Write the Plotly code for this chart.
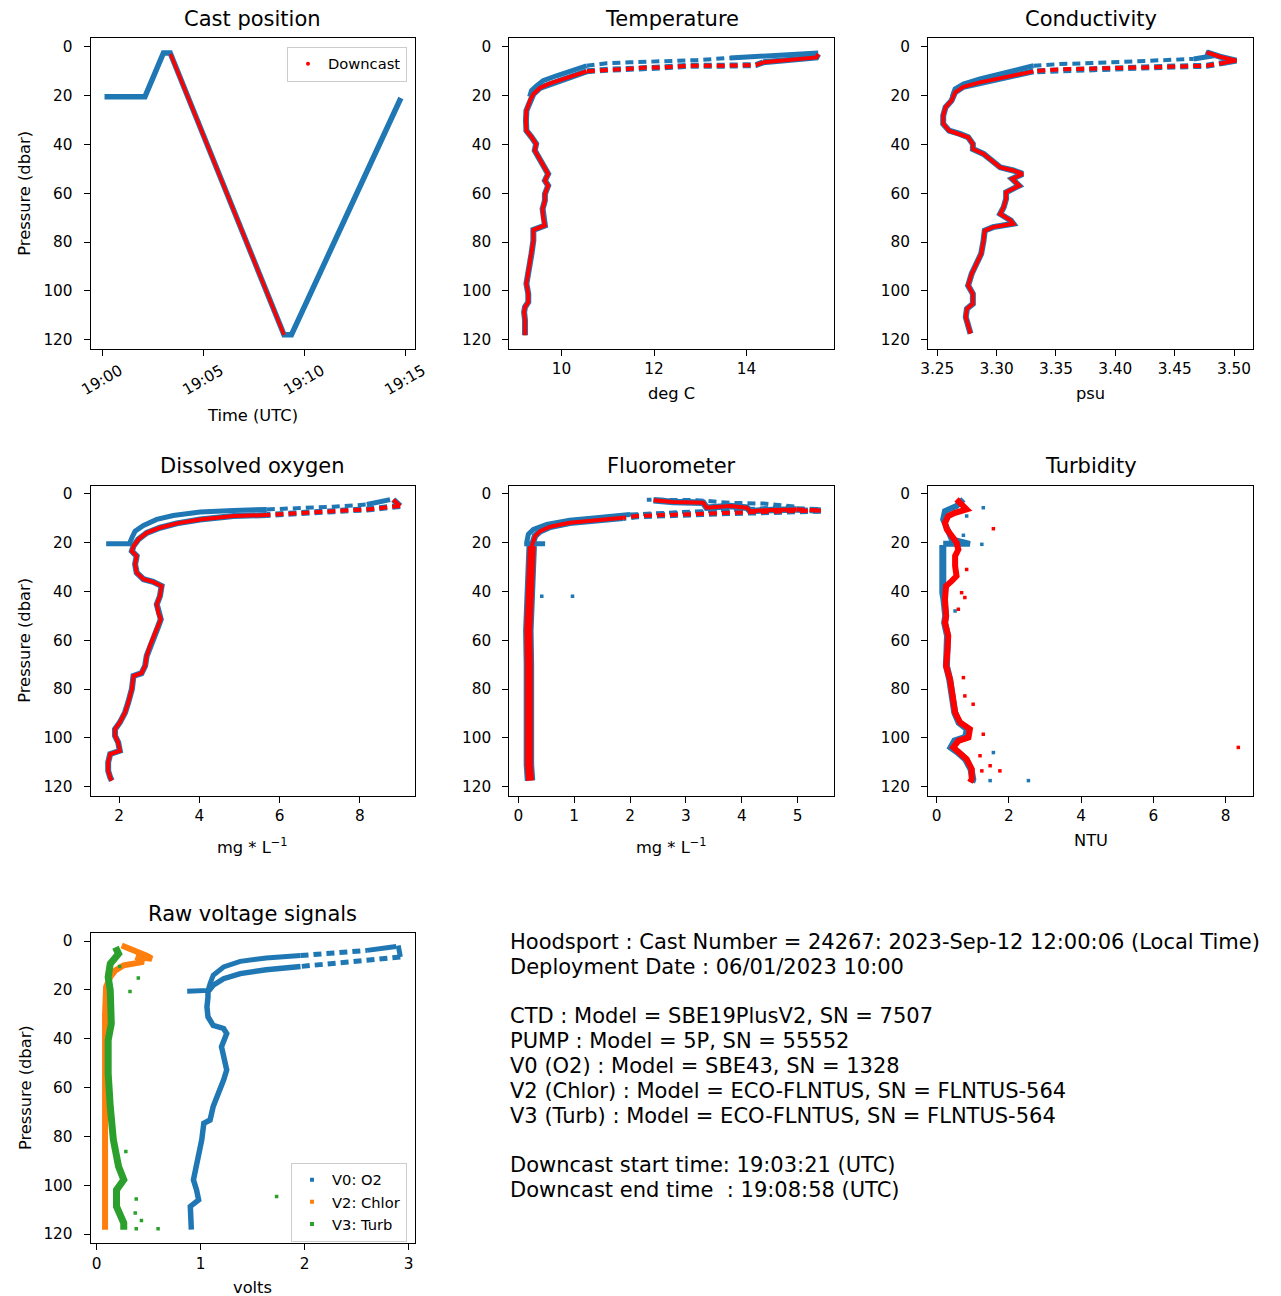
import plotly.graph_objects as go

W, H = 1281, 1296          # window size
OFF = 8                    # browser body margin
FW, FH = W - OFF, H - OFF
FONT = "DejaVu Sans"
BLUE = "#1f77b4"
RED = "#ff0000"
ORANGE = "#ff7f0e"
GREEN = "#2ca02c"

# ---------------- data ----------------
DAY = "2023-09-12 "
cast_time_all = [DAY + t for t in ["19:00:05", "19:02:05", "19:03:00", "19:03:20",
                                   "19:08:58", "19:09:20", "19:14:45"]]
cast_pres_all = [20.5, 20.5, 2.6, 2.6, 118.0, 118.0, 21.0]
cast_time_down = [DAY + "19:03:21", DAY + "19:08:58"]
cast_pres_down = [3.0, 118.0]
time_ticks = [DAY + "19:00", DAY + "19:05", DAY + "19:10", DAY + "19:15"]
time_ticktext = ["19:00", "19:05", "19:10", "19:15"]

# Temperature (deg C)
temp_down_p = [3.0, 4.4, 6.4, 7.5, 7.8, 7.8, 8.5, 8.5, 9.1, 9.5, 10.1, 11.5, 13.2, 15.0, 16.9, 19.4,
               22.0, 26.2, 30.3, 34.4, 37.0, 39.8, 42.5, 45.3, 48.7, 52.1, 54.8, 56.9, 60.3, 63.0,
               66.4, 69.8, 73.2, 75.0, 79.4, 84.8, 88.9, 93.0, 97.1, 101.2, 104.6, 106.6, 108.7,
               112.1, 116.2, 118.2]
temp_down_v = [15.55, 15.51, 14.36, 14.2, 13.5, 12.77, 12.2, 11.84, 11.4, 10.9, 10.54, 10.32, 10.04,
               9.75, 9.53, 9.39, 9.32, 9.24, 9.23, 9.24, 9.35, 9.45, 9.42, 9.5, 9.6, 9.71, 9.64, 9.71,
               9.64, 9.64, 9.59, 9.6, 9.64, 9.39, 9.39, 9.35, 9.32, 9.28, 9.24, 9.28, 9.28, 9.21, 9.19,
               9.21, 9.21, 9.21]
temp_rise_p = [20.5, 20.0, 18.0, 16.0, 13.9, 11.9, 9.8, 7.8, 6.8, 6.4, 6.0, 5.5, 4.6, 3.7, 2.6]
temp_rise_v = [9.31, 9.32, 9.35, 9.46, 9.6, 9.89, 10.25, 10.54, 10.97, 11.48, 12.2, 12.92, 13.64,
               14.72, 15.55]

# Conductivity (psu)
cond_down_p = [2.3, 4.1, 5.7, 6.4, 7.8, 8.5, 8.9, 9.1, 9.4, 10.1, 11.5, 12.8, 14.6, 16.4, 18.7, 22.1,
               24.8, 28.2, 31.6, 34.4, 35.7, 37.1, 39.8, 41.9, 43.9, 46.6, 49.4, 50.7, 52.1, 54.1,
               56.9, 59.6, 62.3, 65.7, 68.5, 71.2, 72.5, 73.9, 75.3, 79.4, 84.8, 88.9, 93.0, 97.8,
               101.2, 105.3, 107.3, 110.7, 114.8, 117.5]
cond_down_v = [3.477, 3.488, 3.502, 3.494, 3.477, 3.424, 3.401, 3.367, 3.348, 3.331, 3.317, 3.303,
               3.286, 3.272, 3.265, 3.262, 3.257, 3.255, 3.255, 3.260, 3.269, 3.276, 3.280, 3.280,
               3.289, 3.296, 3.303, 3.314, 3.322, 3.313, 3.319, 3.308, 3.308, 3.306, 3.303, 3.312,
               3.314, 3.297, 3.290, 3.289, 3.287, 3.283, 3.279, 3.276, 3.280, 3.280, 3.275, 3.274,
               3.276, 3.278]
cond_rise_p = [20.5, 20.0, 17.3, 15.3, 13.2, 11.2, 9.1, 7.8, 7.1, 6.7, 6.1, 5.7, 5.0, 3.7, 2.3]
cond_rise_v = [3.263, 3.263, 3.265, 3.272, 3.286, 3.303, 3.320, 3.331, 3.353, 3.381, 3.410, 3.438,
               3.466, 3.483, 3.476]

# Dissolved oxygen (mg/L)
do_down_p = [2.4, 5.0, 6.4, 7.1, 7.8, 8.7, 9.1, 10.5, 12.1, 13.9, 16.0, 18.7, 21.4, 23.5, 25.5, 28.9,
             32.3, 35.0, 36.1, 37.8, 41.9, 45.3, 48.7, 51.4, 54.1, 58.2, 62.3, 66.4, 70.5, 73.5, 74.6,
             80.0, 85.5, 89.6, 93.7, 96.4, 99.1, 101.9, 105.3, 106.6, 110.0, 113.5, 116.2, 117.5]
do_down_v = [8.83, 9.0, 8.17, 7.34, 6.5, 5.68, 4.85, 4.02, 3.44, 3.02, 2.69, 2.48, 2.36, 2.32, 2.44,
             2.4, 2.44, 2.61, 2.85, 3.06, 3.02, 2.94, 2.98, 3.04, 2.98, 2.87, 2.77, 2.69, 2.65, 2.56,
             2.36, 2.32, 2.23, 2.15, 2.02, 1.9, 1.9, 1.98, 2.02, 1.78, 1.73, 1.73, 1.78, 1.82]
do_rise_p = [20.5, 20.5, 20.5, 20.0, 18.0, 15.3, 13.0, 10.5, 8.9, 7.5, 6.8, 6.4, 6.0, 5.3, 4.4, 2.4]
do_rise_v = [1.68, 2.0, 2.27, 2.27, 2.32, 2.4, 2.61, 2.94, 3.35, 4.02, 4.85, 5.68, 6.5, 7.34, 8.17, 8.75]

# Fluorometer (mg/L)
fl_down_p = [2.6, 3.4, 3.7, 5.7, 5.0, 5.7, 7.1, 6.7, 6.4, 6.8, 7.8, 8.2, 8.7, 9.1, 9.8, 10.8, 11.9,
             13.5, 15.3, 17.3, 21.4, 29.0, 42.0, 56.0, 70.0, 84.0, 97.0, 111.0, 117.5]
fl_down_v = [2.42, 2.77, 3.31, 3.37, 3.79, 4.09, 4.15, 4.39, 4.98, 5.43, 3.79, 3.19, 2.60, 2.12, 1.88,
             1.40, 0.92, 0.57, 0.39, 0.30, 0.24, 0.22, 0.19, 0.18, 0.19, 0.18, 0.19, 0.19, 0.21]
fl_rise_p = [20.5, 20.5, 20.0, 16.6, 14.6, 12.5, 10.8, 9.8, 8.5, 7.8, 7.1, 5.3, 4.0, 3.7, 2.6, 2.4]
fl_rise_v = [0.48, 0.15, 0.15, 0.18, 0.27, 0.51, 0.92, 1.40, 2.00, 2.60, 3.19, 4.98, 4.39, 3.79, 3.19, 2.30]
fl_spike_p = [42.0, 42.0]
fl_spike_v = [0.42, 0.97]

# Turbidity (NTU)
tu_down_p = [2.3, 3.7, 6.4, 7.8, 9.1, 11.9, 14.6, 17.3, 20.0, 22.8, 25.5, 29.6, 33.7, 35.7, 37.8,
             43.2, 50.0, 52.8, 58.2, 63.7, 70.5, 76.0, 82.8, 89.6, 93.7, 96.4, 99.8, 101.2, 103.9,
             106.0, 108.7, 112.8, 116.9, 118.2]
tu_down_v = [0.55, 0.65, 0.83, 0.51, 0.32, 0.23, 0.28, 0.42, 0.55, 0.60, 0.51, 0.51, 0.55, 0.42, 0.26,
             0.23, 0.26, 0.23, 0.32, 0.30, 0.26, 0.37, 0.46, 0.51, 0.65, 0.92, 0.88, 0.60, 0.46, 0.65,
             0.83, 0.97, 0.97, 0.92]
tu_rise_p = [20.5, 20.5, 20.5, 18.7, 14.6, 10.5, 7.1, 5.0, 2.3]
tu_rise_v = [0.18, 0.55, 0.92, 0.42, 0.28, 0.18, 0.23, 0.55, 0.74]
tu_up_p = [118.2, 116.9, 112.8, 108.7, 106.0, 103.9, 101.2, 99.8, 96.4, 93.7, 89.6, 82.8, 76.0, 70.5,
           63.7, 58.2, 52.8, 50.0, 43.2, 40.5, 30.0, 21.0]
tu_up_v = [0.97, 1.00, 0.95, 0.80, 0.60, 0.40, 0.50, 0.80, 0.85, 0.62, 0.50, 0.45, 0.36, 0.27, 0.30,
           0.30, 0.22, 0.25, 0.20, 0.17, 0.17, 0.17]
tu_spike_blue_p = [5.7, 9.1, 17.0, 20.7, 48.0, 106.0, 117.5, 117.5]
tu_spike_blue_v = [1.29, 0.83, 0.74, 1.25, 0.51, 1.57, 1.48, 2.54]
tu_spike_red_p = [14.3, 31.0, 40.5, 42.5, 47.3, 75.3, 82.8, 86.2, 98.5, 103.9, 107.3, 111.4, 113.5, 113.5]
tu_spike_red_v = [1.57, 0.83, 0.69, 0.78, 0.60, 0.74, 0.78, 1.01, 1.29, 8.35, 1.20, 1.48, 1.75, 1.25]

# Raw voltage signals (volts)
v0_down_p = [1.8, 6.5, 7.9, 9.0, 10.4, 11.7, 13.3, 15.4, 18.1, 20.8, 22.9, 27.0, 31.0, 34.5, 35.8,
             37.9, 43.3, 47.4, 52.8, 56.9, 62.4, 67.8, 73.3, 74.6, 81.4, 88.3, 93.7, 97.8, 101.9,
             106.0, 108.7, 114.1, 118.2]
v0_down_v = [2.90, 2.92, 2.60, 2.28, 1.96, 1.63, 1.38, 1.22, 1.12, 1.07, 1.07, 1.06, 1.07, 1.12, 1.22,
             1.25, 1.20, 1.22, 1.25, 1.22, 1.17, 1.12, 1.09, 1.03, 1.01, 0.98, 0.95, 0.93, 0.96, 0.98,
             0.90, 0.90, 0.91]
v0_rise_p = [20.5, 20.5, 20.2, 17.4, 14.0, 10.6, 8.3, 6.9, 5.9, 4.9, 3.8, 2.2]
v0_rise_v = [0.87, 1.06, 1.07, 1.09, 1.12, 1.22, 1.38, 1.63, 1.96, 2.28, 2.60, 2.88]
v2_p = [1.8, 3.5, 6.0, 7.2, 6.5, 8.5, 9.9, 12.0, 14.7, 18.8, 30.0, 50.0, 70.0, 90.0, 110.0, 118.2]
v2_v = [0.24, 0.35, 0.48, 0.53, 0.38, 0.45, 0.26, 0.18, 0.13, 0.09, 0.08, 0.08, 0.08, 0.075, 0.08, 0.08]
v3_p = [2.5, 5.2, 9.3, 14.7, 20.2, 27.0, 33.8, 40.6, 54.2, 67.8, 81.4, 92.3, 97.8, 101.9, 108.7,
        115.5, 118.2]
v3_v = [0.18, 0.21, 0.13, 0.11, 0.13, 0.14, 0.14, 0.11, 0.11, 0.13, 0.16, 0.21, 0.26, 0.19, 0.19,
        0.26, 0.26]
v3_spike_p = [10.4, 15.1, 20.6, 86.2, 104.6, 105.7, 111.4, 114.5, 117.8, 117.8]
v3_spike_v = [0.22, 0.40, 0.32, 0.28, 1.73, 0.38, 0.37, 0.43, 0.59, 0.38]

pres_ticks = [0, 20, 40, 60, 80, 100, 120]
info_lines = [
    "Hoodsport : Cast Number = 24267: 2023-Sep-12 12:00:06 (Local Time)",
    "Deployment Date : 06/01/2023 10:00",
    "",
    "CTD : Model = SBE19PlusV2, SN = 7507",
    "PUMP : Model = 5P, SN = 55552",
    "V0 (O2) : Model = SBE43, SN = 1328",
    "V2 (Chlor) : Model = ECO-FLNTUS, SN = FLNTUS-564",
    "V3 (Turb) : Model = ECO-FLNTUS, SN = FLNTUS-564",
    "",
    "Downcast start time: 19:03:21 (UTC)",
    "Downcast end time  : 19:08:58 (UTC)",
]

# ---------------- layout geometry (window pixels) ----------------
COLS = [(90.7, 415.0), (509.3, 834.0), (928.0, 1253.0)]
ROWS = [(38.4, 349.0), (485.5, 796.0), (932.8, 1243.3)]
PANELS = [(0, 0), (0, 1), (0, 2), (1, 0), (1, 1), (1, 2), (2, 0)]
YRANGE = [123.8, -3.4]
DASH = "8px,5px"


def fx(px):
    return (px - OFF) / FW


def fy(py):
    return 1 - (py - OFF) / FH


fig = go.Figure()


def ax_names(i):
    s = "" if i == 1 else str(i)
    return "x" + s, "y" + s


def add_line(i, x, y, color, width, dash="solid"):
    xa, ya = ax_names(i)
    fig.add_trace(go.Scatter(x=x, y=y, mode="lines",
                             line=dict(color=color, width=width, dash=dash),
                             xaxis=xa, yaxis=ya, showlegend=False, hoverinfo="skip"))


def add_segments(i, v, p, color, segs, extra=0.0):
    # segs: (first index, last index, dashed?, width)
    for a, b, dashed, w in segs:
        b = len(v) - 1 if b is None else b
        add_line(i, v[a:b + 1], p[a:b + 1], color, w + extra, DASH if dashed else "solid")


def add_pts(i, x, y, color, size=3.5):
    xa, ya = ax_names(i)
    fig.add_trace(go.Scatter(x=x, y=y, mode="markers",
                             marker=dict(color=color, size=size, symbol="square", line=dict(width=0)),
                             xaxis=xa, yaxis=ya, showlegend=False, hoverinfo="skip"))


# 1 cast position
add_line(1, cast_time_all, cast_pres_all, BLUE, 5.5)
add_line(1, cast_time_down, cast_pres_down, RED, 3.5)

# 2 temperature
seg = [(0, 2, False, 4), (2, 10, True, 4), (10, None, False, 4)]
add_segments(2, temp_down_v, temp_down_p, BLUE, seg, extra=2)
add_segments(2, temp_rise_v, temp_rise_p, BLUE, [(0, 7, False, 5), (7, 12, True, 4), (12, None, False, 5)])
add_segments(2, temp_down_v, temp_down_p, RED, seg)

# 3 conductivity
seg = [(0, 3, False, 4), (3, 9, True, 4), (9, None, False, 4)]
add_segments(3, cond_down_v, cond_down_p, BLUE, seg, extra=2)
add_segments(3, cond_rise_v, cond_rise_p, BLUE, [(0, 7, False, 5), (7, 12, True, 4), (12, None, False, 5)])
add_segments(3, cond_down_v, cond_down_p, RED, seg)

# 4 dissolved oxygen
seg = [(0, 1, False, 4), (1, 5, True, 4), (5, None, False, 4)]
add_segments(4, do_down_v, do_down_p, BLUE, seg, extra=2)
add_segments(4, do_rise_v, do_rise_p, BLUE, [(0, 11, False, 5), (11, 14, True, 4), (14, None, False, 5)])
add_segments(4, do_down_v, do_down_p, RED, seg)

# 5 fluorometer
seg = [(0, 8, False, 4), (8, 14, True, 4), (14, 20, False, 4), (20, None, False, 8)]
add_segments(5, fl_down_v, fl_down_p, BLUE, seg, extra=2.5)
add_segments(5, fl_rise_v, fl_rise_p, BLUE, [(0, 8, False, 5), (8, None, True, 4)])
add_pts(5, fl_spike_v, fl_spike_p, BLUE)
add_segments(5, fl_down_v, fl_down_p, RED, seg)

# 6 turbidity
add_line(6, tu_rise_v, tu_rise_p, BLUE, 6)
add_line(6, tu_up_v, tu_up_p, BLUE, 7)
add_pts(6, tu_spike_blue_v, tu_spike_blue_p, BLUE)
add_line(6, tu_down_v, tu_down_p, RED, 6)
add_pts(6, tu_spike_red_v, tu_spike_red_p, RED)

# 7 raw voltages
add_segments(7, v0_down_v, v0_down_p, BLUE, [(0, 1, False, 5), (1, 4, True, 5), (4, None, False, 5.5)])
add_segments(7, v0_rise_v, v0_rise_p, BLUE, [(0, 8, False, 5), (8, 10, True, 5), (10, None, False, 5)])
add_line(7, v2_v, v2_p, ORANGE, 6)
add_line(7, v3_v, v3_p, GREEN, 7)
add_pts(7, v3_spike_v, v3_spike_p, GREEN)

# legend proxies
fig.add_trace(go.Scatter(x=[None], y=[None], mode="markers", name="Downcast",
                         marker=dict(color=RED, size=4, symbol="circle"),
                         xaxis="x", yaxis="y", legend="legend"))
for nm, col in [("V0: O2", BLUE), ("V2: Chlor", ORANGE), ("V3: Turb", GREEN)]:
    fig.add_trace(go.Scatter(x=[None], y=[None], mode="markers", name=nm,
                             marker=dict(color=col, size=4, symbol="square"),
                             xaxis="x7", yaxis="y7", legend="legend2"))

xcfg = {
    1: dict(type="date", range=[DAY + "18:59:24", DAY + "19:15:27"], tickvals=time_ticks,
            ticktext=time_ticktext, tickangle=-30, ticklabelshift=17),
    2: dict(range=[8.87, 15.89], tickvals=[10, 12, 14]),
    3: dict(range=[3.2422, 3.516], tickvals=[3.25, 3.30, 3.35, 3.40, 3.45, 3.50],
            ticktext=["3.25", "3.30", "3.35", "3.40", "3.45", "3.50"]),
    4: dict(range=[1.295, 9.37], tickvals=[2, 4, 6, 8]),
    5: dict(range=[-0.161, 5.65], tickvals=[0, 1, 2, 3, 4, 5]),
    6: dict(range=[-0.24, 8.756], tickvals=[0, 2, 4, 6, 8]),
    7: dict(range=[-0.058, 3.061], tickvals=[0, 1, 2, 3]),
}
titles = ["Cast position", "Temperature", "Conductivity", "Dissolved oxygen", "Fluorometer",
          "Turbidity", "Raw voltage signals"]
xlabels = ["Time (UTC)", "deg C", "psu", "mg * L<sup>\u22121</sup>", "mg * L<sup>\u22121</sup>",
           "NTU", "volts"]

common = dict(showline=True, linecolor="black", linewidth=1.1, mirror=True, ticks="outside",
              ticklen=6, tickwidth=1.1, tickcolor="black", showgrid=False, zeroline=False,
              automargin=False, tickfont=dict(family=FONT, size=15.3, color="black"))

layout = dict(width=FW, height=FH, margin=dict(l=0, r=0, t=0, b=0, pad=0, autoexpand=False),
              autosize=False, paper_bgcolor="white", plot_bgcolor="white",
              font=dict(family=FONT, color="black"))
annotations = []
for i, (r, c) in enumerate(PANELS, start=1):
    x0, x1 = COLS[c]
    y0, y1 = ROWS[r]
    sfx = "" if i == 1 else str(i)
    xa = dict(common, domain=[fx(x0), fx(x1)], anchor="y" + sfx, **xcfg[i])
    ya = dict(common, domain=[fy(y1), fy(y0)], anchor="x" + sfx, range=YRANGE, tickvals=pres_ticks,
              ticklabelstandoff=8)
    layout["xaxis" + sfx] = xa
    layout["yaxis" + sfx] = ya
    cx = (x0 + x1) / 2
    annotations.append(dict(text=titles[i - 1], x=fx(cx), y=fy(y0 - 19), xref="paper", yref="paper",
                            xanchor="center", yanchor="middle", showarrow=False,
                            font=dict(family=FONT, size=21, color="black")))
    off = 66 if i == 1 else (50 if "sup" in xlabels[i - 1] else 44)
    annotations.append(dict(text=xlabels[i - 1], x=fx(cx), y=fy(y1 + off), xref="paper", yref="paper",
                            xanchor="center", yanchor="middle", showarrow=False,
                            font=dict(family=FONT, size=16.3, color="black")))
    if c == 0:
        annotations.append(dict(text="Pressure (dbar)", x=fx(25), y=fy((y0 + y1) / 2), xref="paper",
                                yref="paper", xanchor="center", yanchor="middle", textangle=-90,
                                showarrow=False, font=dict(family=FONT, size=16.3, color="black")))

for k, line in enumerate(info_lines):
    if not line:
        continue
    annotations.append(dict(text=line.replace("  ", "\u00a0 "), x=fx(508), y=fy(942 + 24.8 * k),
                            xref="paper", yref="paper", xanchor="left", yanchor="middle",
                            showarrow=False, align="left",
                            font=dict(family=FONT, size=21, color="black")))

layout["annotations"] = annotations
leg_common = dict(xanchor="right", yanchor="top", bgcolor="rgba(255,255,255,0.8)",
                  bordercolor="#cccccc", borderwidth=1,
                  font=dict(family=FONT, size=14.7, color="black"))
layout["legend"] = dict(leg_common, x=fx(407), y=fy(46.7))
layout["legend2"] = dict(leg_common, x=fx(407), y=fy(1162.7))
layout["showlegend"] = True

fig.update_layout(**layout)
fig.write_html("out.html")
